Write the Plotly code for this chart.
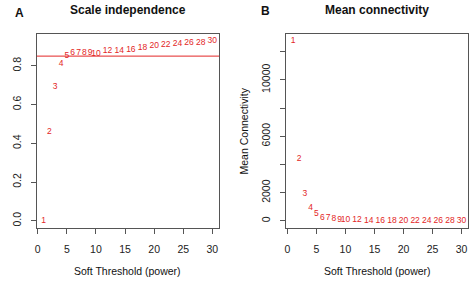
import plotly.graph_objects as go

powers = [1, 2, 3, 4, 5, 6, 7, 8, 9, 10, 12, 14, 16, 18, 20, 22, 24, 26, 28, 30]
scale_fit = [0.0, 0.459, 0.693, 0.81, 0.85, 0.866, 0.868, 0.868, 0.868, 0.862,
             0.878, 0.875, 0.88, 0.892, 0.904, 0.909, 0.913, 0.918, 0.92, 0.927]
mean_k = [12740, 4400, 1890, 910, 480, 245, 215, 120, 95, 70,
          45, 35, 28, 22, 18, 15, 12, 10, 8, 7]
cut_height = 0.85
x_ticks = [0, 5, 10, 15, 20, 25, 30]
a_yticks = [0.0, 0.2, 0.4, 0.6, 0.8]
b_yticks = [0, 2000, 4000, 6000, 8000, 10000, 12000]
b_yticktext = ["0", "2000", "", "6000", "", "10000", ""]

W, H = 471, 281
def px_x(a, b):
    return [a / W, b / W]
def px_y(top, bot):
    return [1 - bot / H, 1 - top / H]

font = "Liberation Sans, Arial, sans-serif"
red = "#e32626"
axcol = "#555555"
lbl = 8.5

fig = go.Figure()
fig.add_trace(go.Scatter(x=powers, y=scale_fit, mode="text", text=[str(p) for p in powers],
                         textfont=dict(color=red, size=lbl, family=font),
                         xaxis="x", yaxis="y", showlegend=False, hoverinfo="skip"))
fig.add_trace(go.Scatter(x=powers, y=mean_k, mode="text", text=[str(p) for p in powers],
                         textfont=dict(color=red, size=lbl, family=font),
                         xaxis="x2", yaxis="y2", showlegend=False, hoverinfo="skip"))

def rng(vals):
    mn, mx = min(vals), max(vals)
    d = (mx - mn) * 0.04
    return [mn - d, mx + d]

common = dict(showline=True, mirror=True, linecolor=axcol, linewidth=1,
              ticks="outside", ticklen=5, tickcolor=axcol, showgrid=False, zeroline=False,
              tickfont=dict(family=font, size=10.5, color="#222"))

fig.update_layout(
    width=W, height=H, margin=dict(l=0, r=0, t=0, b=0),
    plot_bgcolor="white", paper_bgcolor="white",
    xaxis=dict(domain=px_x(35, 218), range=rng(powers), tickvals=x_ticks,
               ticklabelstandoff=6, anchor="y", **common),
    yaxis=dict(domain=px_y(34, 228), range=rng(scale_fit), tickvals=a_yticks,
               ticktext=[f"{v:.1f}" for v in a_yticks], tickangle=-90,
               ticklabelstandoff=6, anchor="x", **common),
    xaxis2=dict(domain=px_x(285.7, 468.3), range=rng(powers), tickvals=x_ticks,
                ticklabelstandoff=6, anchor="y2", **common),
    yaxis2=dict(domain=px_y(34, 228), range=rng(mean_k), tickvals=b_yticks,
                ticktext=b_yticktext, tickangle=-90,
                ticklabelstandoff=6, anchor="x2", **common),
)

fig.add_shape(type="line", xref="x domain", yref="y", x0=0, x1=1, y0=cut_height, y1=cut_height,
              line=dict(color=red, width=1))

ann = []
def add(text, x, y, size, angle=0):
    ann.append(dict(text=text, x=x / W, y=1 - y / H, xref="paper", yref="paper",
                    showarrow=False, textangle=angle, font=dict(family=font, size=size, color="#111"),
                    xanchor="center", yanchor="middle"))
add("<b>Scale independence</b>", 127, 10, 12)
add("<b>Mean connectivity</b>", 376.7, 10, 12)
add("<b>A</b>", 18, 13, 12)
add("<b>B</b>", 264.5, 11, 12)
add("Soft Threshold (power)", 126.5, 271, 10.5)
add("Soft Threshold (power)", 377, 271, 10.5)
add("Mean Connectivity", 243.5, 131, 10.5, -90)
fig.update_layout(annotations=ann)

fig.write_html("out.html")
